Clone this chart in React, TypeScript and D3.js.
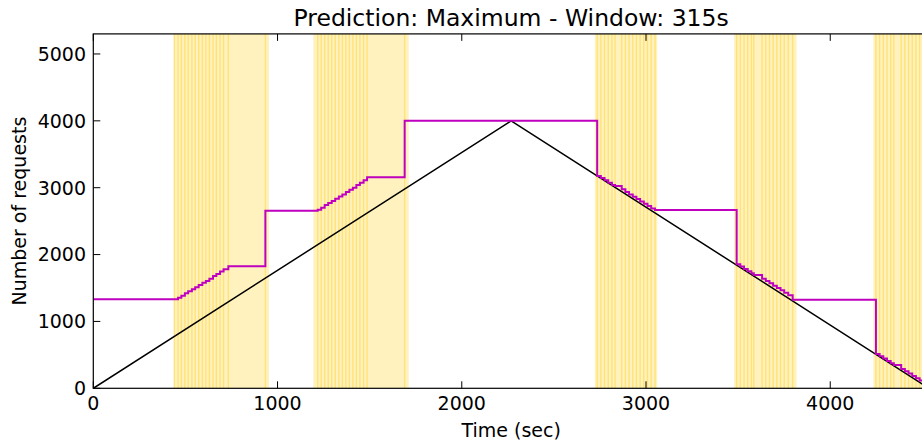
import React, { useEffect, useRef } from 'react';
import * as d3 from 'd3';

const WIDTH = 922;
const HEIGHT = 446;

const xTicks = [0, 1000, 2000, 3000, 4000];
const yTicks = [0, 1000, 2000, 3000, 4000, 5000];

// actual load (triangle)
const loadTimes = [0, 2268, 4536];
const loadValues = [0, 4000, 0];

// predicted maximum, step-after vertices
const predTimes = [
  0, 440, 460, 478, 497, 515, 535, 553, 572, 592, 611, 630, 650, 668, 688, 707, 733,
  934,
  1218, 1237, 1256, 1275, 1294, 1313, 1333, 1352, 1371, 1390, 1409, 1428, 1447, 1467, 1486,
  1690,
  2735, 2755, 2775, 2795, 2815, 2832, 2868, 2888, 2908, 2928, 2948, 2968, 2988, 3008, 3028, 3049,
  3492, 3512, 3532, 3552, 3572, 3585, 3630, 3650, 3670, 3690, 3710, 3730, 3750, 3772, 3796,
  4248, 4268, 4288, 4308, 4328, 4345, 4385, 4405, 4425, 4445, 4465, 4485, 4505, 4536,
];
const predValues = [
  1330, 1330, 1355, 1385, 1420, 1450, 1480, 1510, 1545, 1580, 1605, 1640, 1680, 1710, 1745, 1780, 1825,
  2655,
  2670, 2700, 2740, 2770, 2800, 2835, 2870, 2900, 2935, 2970, 3000, 3040, 3075, 3110, 3155,
  4000,
  3175, 3145, 3110, 3075, 3040, 3025, 2975, 2935, 2900, 2865, 2830, 2795, 2760, 2725, 2690, 2665,
  1854, 1820, 1785, 1750, 1720, 1695, 1640, 1605, 1570, 1535, 1500, 1465, 1430, 1390, 1325,
  514, 480, 445, 410, 375, 350, 290, 255, 220, 185, 150, 115, 80, 80,
];

// adaptation windows (yellow bands)
const bandStarts = [438, 1194, 2722, 3478, 4234];
const bandEnds = [954, 1712, 3061, 3817, 4560];

const App: React.FC = () => {
  const svgRef = useRef<SVGSVGElement>(null);

  useEffect(() => {
    if (!svgRef.current) return;
    const svg = d3.select(svgRef.current);
    svg.selectAll('*').remove();

    const margin = { left: 93.3, right: 929, top: 33.9, bottom: 388.3 };
    const x = d3.scaleLinear().domain([0, 4536]).range([margin.left, margin.right]);
    const y = d3.scaleLinear().domain([0, 5300]).range([margin.bottom, margin.top]);
    const font = '"DejaVu Sans", sans-serif';

    svg.append('defs').append('clipPath').attr('id', 'plot-clip')
      .append('rect')
      .attr('x', margin.left)
      .attr('y', margin.top)
      .attr('width', margin.right - margin.left)
      .attr('height', margin.bottom - margin.top);

    const plot = svg.append('g').attr('clip-path', 'url(#plot-clip)');

    // bands
    bandStarts.forEach((s, i) => {
      plot.append('rect')
        .attr('x', x(s))
        .attr('y', margin.top)
        .attr('width', x(bandEnds[i]) - x(s))
        .attr('height', margin.bottom - margin.top)
        .attr('fill', '#fff2bf');
    });

    // stripes at each prediction change inside a band
    const stripes = predTimes.filter(t => bandStarts.some((s, i) => t >= s && t <= bandEnds[i]));
    stripes.forEach(t => {
      plot.append('rect')
        .attr('x', x(t) - 0.7)
        .attr('y', margin.top)
        .attr('width', 1.4)
        .attr('height', margin.bottom - margin.top)
        .attr('fill', '#ffe377');
    });

    // actual load
    const loadLine = d3.line<number>()
      .x((_, i) => x(loadTimes[i]))
      .y(d => y(d));
    plot.append('path')
      .attr('d', loadLine(loadValues))
      .attr('fill', 'none')
      .attr('stroke', '#000')
      .attr('stroke-width', 1.5);

    // prediction
    const predLine = d3.line<number>()
      .x((_, i) => x(predTimes[i]))
      .y(d => y(d))
      .curve(d3.curveStepAfter);
    plot.append('path')
      .attr('d', predLine(predValues))
      .attr('fill', 'none')
      .attr('stroke', '#bf00bf')
      .attr('stroke-width', 2);

    // spines
    const axes = svg.append('g');
    axes.append('rect')
      .attr('x', margin.left)
      .attr('y', margin.top)
      .attr('width', margin.right - margin.left)
      .attr('height', margin.bottom - margin.top)
      .attr('fill', 'none')
      .attr('stroke', '#000')
      .attr('stroke-width', 1.2);

    // x ticks (inward, top and bottom)
    xTicks.forEach(t => {
      const px = x(t);
      axes.append('line')
        .attr('x1', px).attr('x2', px)
        .attr('y1', margin.bottom).attr('y2', margin.bottom - 7)
        .attr('stroke', '#000').attr('stroke-width', 1);
      axes.append('line')
        .attr('x1', px).attr('x2', px)
        .attr('y1', margin.top).attr('y2', margin.top + 7)
        .attr('stroke', '#000').attr('stroke-width', 1);
      axes.append('text')
        .attr('x', px)
        .attr('y', 410)
        .attr('text-anchor', 'middle')
        .attr('font-family', font)
        .attr('font-size', 19)
        .text(String(t));
    });

    // y ticks
    yTicks.forEach(t => {
      const py = y(t);
      axes.append('line')
        .attr('x1', margin.left).attr('x2', margin.left + 7)
        .attr('y1', py).attr('y2', py)
        .attr('stroke', '#000').attr('stroke-width', 1);
      axes.append('text')
        .attr('x', 86)
        .attr('y', py + 6.9)
        .attr('text-anchor', 'end')
        .attr('font-family', font)
        .attr('font-size', 19)
        .text(String(t));
    });

    svg.append('text')
      .attr('x', (margin.left + margin.right) / 2)
      .attr('y', 26)
      .attr('text-anchor', 'middle')
      .attr('font-family', font)
      .attr('font-size', 23.5)
      .text('Prediction: Maximum - Window: 315s');

    svg.append('text')
      .attr('x', (margin.left + margin.right) / 2)
      .attr('y', 437)
      .attr('text-anchor', 'middle')
      .attr('font-family', font)
      .attr('font-size', 19)
      .text('Time (sec)');

    svg.append('text')
      .attr('transform', `translate(26,${(margin.top + margin.bottom) / 2}) rotate(-90)`)
      .attr('text-anchor', 'middle')
      .attr('font-family', font)
      .attr('font-size', 19)
      .text('Number of requests');
  }, []);

  return (
    <svg
      ref={svgRef}
      width={WIDTH}
      height={HEIGHT}
      style={{ position: 'absolute', left: 0, top: 0, background: '#fff' }}
    />
  );
};

export default App;
